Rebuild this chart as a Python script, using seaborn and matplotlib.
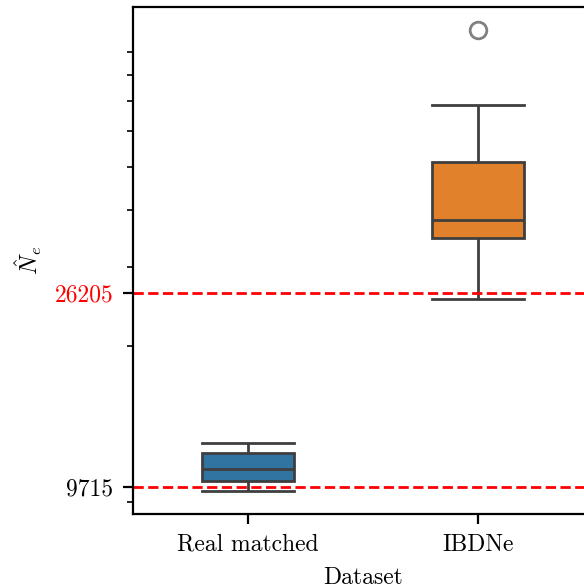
import matplotlib
matplotlib.use("Agg")
import matplotlib.pyplot as plt
import matplotlib.ticker as mticker
import pandas as pd
import seaborn as sns

plt.rcParams["font.family"] = "serif"
plt.rcParams["font.serif"] = ["cmr10"]
plt.rcParams["mathtext.fontset"] = "cm"
plt.rcParams["axes.formatter.use_mathtext"] = True
plt.rcParams["font.size"] = 8.5

# Ne estimates per replicate
datasets = ["Real matched", "IBDNe"]
real_matched = [9533, 9800, 10050, 10400, 10670, 11100, 11600, 11900, 12210]
ibdne = [25450, 31000, 34770, 36500, 38010, 44000, 51150, 68570, 100600]

# reference population sizes
ref_sizes = [9715, 26205]
ref_labels = ["9715", "26205"]

df = pd.DataFrame({
    "Dataset": [datasets[0]] * len(real_matched) + [datasets[1]] * len(ibdne),
    "Ne": real_matched + ibdne,
})

fig = plt.figure(figsize=(2.92, 2.94), dpi=200)
ax = fig.add_axes([133 / 584, 74 / 588, 460 / 584, 507 / 588])

sns.boxplot(data=df, x="Dataset", y="Ne", hue="Dataset", order=datasets,
            palette="tab10", width=0.4, log_scale=True, legend=False,
            capwidths=0.4,
            flierprops=dict(markeredgecolor="0.5"),
            ax=ax)

for v in ref_sizes:
    ax.axhline(v, color="red", linestyle="--", linewidth=1.0)

ax.set_yticks(ref_sizes)
ax.set_yticklabels(ref_labels)
ax.yaxis.set_minor_formatter(mticker.NullFormatter())
ax.get_yticklabels()[1].set_color("red")

ax.set_xlabel("Dataset")
ax.set_ylabel(r"$\hat{N}_e$")

fig.savefig("out.png", dpi=200)
